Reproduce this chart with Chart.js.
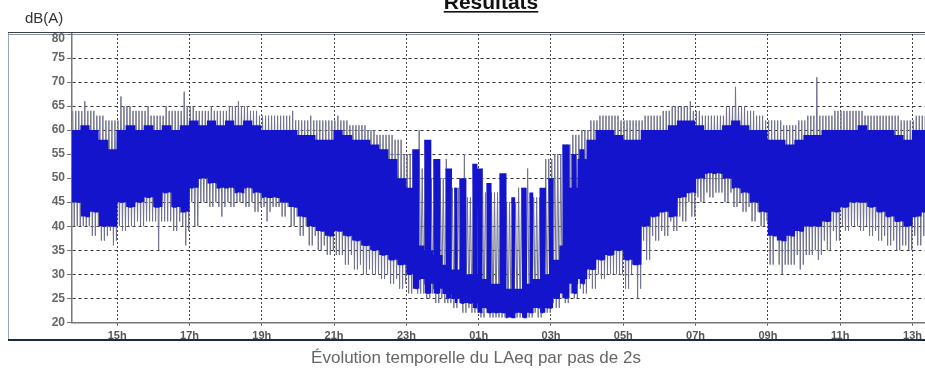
<!DOCTYPE html>
<html>
<head>
<meta charset="utf-8">
<script src="https://cdn.jsdelivr.net/npm/chart.js@4"></script>
<style>
  html, body { margin: 0; padding: 0; background: #fff; overflow: hidden; }
  #wrap { position: absolute; left: 0; top: 0; width: 960px; height: 376px; }
</style>
</head>
<body>
<div id="wrap"><canvas id="laeqChart" width="960" height="376"></canvas></div>
<script>
// 15 min bins starting at 13:45 (dB(A))
const binStart = 13.75;
const binStep = 0.25;

// dense part of the signal (top / bottom of the blue band)
const bandHi = [
  60, 61, 60, 58, 56, 60, 61, 60, 61, 60, 61, 60, 61,
  62, 61, 62, 61, 62, 61, 62, 61, 60, 60, 60, 60,
  59, 59, 58, 58, 60, 59, 58, 58, 57, 56, 54, 50,
  48, 36, 35, 34, 32, 31, 30, 30, 29, 28, 28, 27,
  27, 28, 29, 30, 33, 36, 48, 54, 58, 60, 60, 59,
  58, 58, 60, 60, 60, 61, 62, 62, 61, 60, 60, 61,
  62, 61, 60, 60, 58, 58, 57, 58, 59, 59, 60, 60,
  60, 60, 61, 60, 60, 60, 59, 58, 60, 60, 60
];
const bandLo = [
  45, 42, 43, 40, 40, 45, 44, 45, 46, 44, 47, 44, 43,
  48, 50, 49, 48, 48, 47, 48, 47, 46, 46, 45, 44,
  42, 40, 39, 38, 39, 38, 37, 36, 35, 34, 33, 32,
  30, 29, 28, 27, 26, 25, 24, 24, 23, 22, 22, 21,
  22, 22, 23, 23, 25, 26, 28, 29, 31, 33, 34, 35,
  33, 32, 40, 42, 43, 42, 46, 47, 50, 51, 51, 50,
  48, 47, 45, 43, 38, 37, 38, 39, 40, 40, 41, 43,
  44, 45, 45, 44, 43, 42, 41, 40, 42, 43, 43
];

// isolated peaks sticking out of the band
const peakHi = [
  64, 66, 64, 63, 62, 67, 65, 64, 65, 63, 65, 64, 68,
  65, 64, 65, 64, 65, 66, 65, 64, 63, 63, 63, 64,
  62, 63, 62, 62, 63, 62, 61, 61, 60, 59, 59, 58,
  55, 60, 52, 50, 54, 48, 55, 46, 52, 47, 50, 45,
  48, 52, 46, 54, 55, 57, 59, 60, 62, 63, 63, 63,
  62, 62, 63, 63, 64, 65, 65, 66, 64, 63, 63, 65,
  69, 65, 64, 63, 62, 62, 61, 62, 63, 71, 63, 64,
  64, 64, 64, 63, 63, 63, 63, 62, 63, 63, 63
];
const peakLo = [
  40, 40, 38, 37, 36, 39, 40, 40, 41, 35, 41, 39, 36,
  40, 45, 44, 42, 44, 45, 44, 43, 41, 44, 42, 40,
  38, 36, 35, 34, 34, 32, 31, 30, 30, 29, 28, 27,
  26, 26, 25, 24, 24, 23, 22, 22, 21, 21, 21, 21,
  21, 21, 21, 22, 23, 24, 25, 26, 27, 29, 30, 30,
  27, 25, 33, 37, 38, 39, 41, 42, 45, 46, 47, 45,
  44, 43, 41, 40, 32, 30, 32, 31, 34, 33, 35, 37,
  39, 40, 39, 38, 37, 36, 35, 35, 36, 38, 38
];

// night-time bursts (hours, after midnight counted as 24+)
const burstStart = [23.18, 23.51, 23.76, 24.10, 24.34, 24.48, 24.84, 24.98, 25.23, 25.59, 25.92, 26.20, 26.42, 26.70, 26.95, 27.33, 27.58, 27.80];
const burstEnd   = [23.35, 23.68, 23.93, 24.26, 24.40, 24.65, 24.95, 25.09, 25.34, 25.76, 26.00, 26.34, 26.50, 26.86, 27.06, 27.50, 27.72, 27.94];
const burstTop   = [56, 58, 54, 52, 48, 50, 53, 52, 49, 51, 46, 48, 47, 48, 50, 57, 55, 56];
const burstLow   = [27, 26, 26, 25, 24, 24, 23, 22, 22, 22, 21, 21, 22, 22, 23, 25, 26, 28];

const tickHours = [15, 17, 19, 21, 23, 25, 27, 29, 31, 33, 35, 37];
const tickLabels = ['15h', '17h', '19h', '21h', '23h', '01h', '03h', '05h', '07h', '09h', '11h', '13h'];

const at = (arr, j) => arr[Math.min(arr.length - 1, Math.max(0, j))];

// build the zigzag traces
const bandPts = [];
const peakPts = [];
for (let i = 0; i < bandHi.length; i++) {
  const hiIdx = [i, i + 1, i, i - 1];
  for (let k = 0; k < 16; k++) {
    const y = k % 2 ? at(bandLo, hiIdx[(k + 1) % 4]) : at(bandHi, hiIdx[k % 4]);
    bandPts.push({ x: binStart + (i + k / 16) * binStep, y: y });
  }
  // one spike at the bin's own peak, the others no higher than the neighbours
  [-1, 0, 1].forEach((s, m) => {
    const up = s === 0 ? peakHi[i] : Math.min(peakHi[i], at(peakHi, i + s));
    const down = s === 0 ? peakLo[i] : Math.max(peakLo[i], at(peakLo, i - s));
    peakPts.push({ x: binStart + (i + (m * 2 + 0.5) / 6) * binStep, y: up });
    peakPts.push({ x: binStart + (i + (m * 2 + 1.5) / 6) * binStep, y: down });
  });
}
const burstPts = [];
for (let b = 0; b < burstStart.length; b++) {
  let k = 0;
  for (let t = burstStart[b]; t <= burstEnd[b]; t += 0.018) {
    burstPts.push({ x: t, y: k++ % 2 ? burstLow[b] : burstTop[b] });
  }
  burstPts.push({ x: burstEnd[b] + 0.001, y: null });
}

const decor = {
  id: 'decor',
  beforeDraw(chart) {
    const c = chart.ctx;
    c.save();
    c.fillStyle = '#fff';
    c.fillRect(0, 0, chart.width, chart.height);
    // frame
    c.strokeStyle = '#9aa6b6';
    c.lineWidth = 1;
    c.beginPath(); c.moveTo(8.5, 32); c.lineTo(8.5, 340); c.stroke();
    c.strokeStyle = '#3a3f4a';
    c.beginPath(); c.moveTo(8, 32.5); c.lineTo(chart.width, 32.5); c.stroke();
    c.strokeStyle = '#8a909c';
    c.beginPath(); c.moveTo(8, 34.5); c.lineTo(chart.width, 34.5); c.stroke();
    c.strokeStyle = '#1c2a48';
    c.lineWidth = 2;
    c.beginPath(); c.moveTo(8, 340); c.lineTo(chart.width, 340); c.stroke();
    c.restore();
  },
  afterDraw(chart) {
    const c = chart.ctx;
    c.save();
    c.fillStyle = '#111';
    c.font = 'bold 21px "Liberation Sans", Arial, sans-serif';
    c.textAlign = 'center';
    c.textBaseline = 'alphabetic';
    c.fillText('Résultats', 491, 9);
    const w = c.measureText('Résultats').width;
    c.fillRect(491 - w / 2, 11, w, 1.6);
    c.fillStyle = '#333';
    c.font = '15px "Liberation Sans", Arial, sans-serif';
    c.textAlign = 'left';
    c.fillText('dB(A)', 25, 23);
    c.fillStyle = '#666';
    c.font = '17px "Liberation Sans", Arial, sans-serif';
    c.textAlign = 'center';
    c.fillText('Évolution temporelle du LAeq par pas de 2s', 476, 363);
    // top tick label sits just under the frame
    c.font = 'bold 12px "Liberation Sans", Arial, sans-serif';
    c.textAlign = 'right';
    c.textBaseline = 'middle';
    c.fillText('80', 65, 39);
    c.restore();
  }
};

new Chart(document.getElementById('laeqChart'), {
  type: 'line',
  data: {
    datasets: [
      { data: bandPts, borderColor: '#1414cc', borderWidth: 1.3, pointRadius: 0, tension: 0 },
      { data: burstPts, borderColor: '#1414cc', borderWidth: 1.3, pointRadius: 0, tension: 0, spanGaps: false },
      { data: peakPts, borderColor: '#70728e', borderWidth: 1, pointRadius: 0, tension: 0 }
    ]
  },
  options: {
    responsive: false,
    devicePixelRatio: 1,
    animation: false,
    parsing: false,
    layout: { padding: { left: 0, top: 34, right: 20.4, bottom: 0 } },
    plugins: { legend: { display: false }, tooltip: { enabled: false } },
    scales: {
      x: {
        type: 'linear',
        min: binStart,
        max: binStart + 24,
        afterFit: s => { s.height = 53.7; },
        afterBuildTicks: s => { s.ticks = tickHours.map(v => ({ value: v })); },
        grid: { color: '#444', tickLength: 5, tickBorderDash: [2, 2] },
        border: { color: '#777', width: 1.5, dash: [2, 2] },
        ticks: {
          padding: 2,
          color: '#555',
          font: { family: '"Liberation Sans", Arial, sans-serif', size: 11, weight: 'bold' },
          autoSkip: false,
          maxRotation: 0,
          callback: v => tickLabels[tickHours.indexOf(v)]
        }
      },
      y: {
        min: 20,
        max: 80,
        afterFit: s => { s.width = 72; },
        grid: {
          color: ctx => (ctx.tick && (ctx.tick.value === 80 || ctx.tick.value === 20)) ? 'rgba(0,0,0,0)' : '#333',
          tickColor: '#777',
          tickLength: 5
        },
        border: { color: '#777', width: 1.5, dash: [3, 3] },
        ticks: {
          stepSize: 5,
          padding: 2,
          color: '#666',
          font: { family: '"Liberation Sans", Arial, sans-serif', size: 12, weight: 'bold' },
          callback: v => (v === 80 ? '' : v)
        }
      }
    }
  },
  plugins: [decor]
});
</script>
</body>
</html>
